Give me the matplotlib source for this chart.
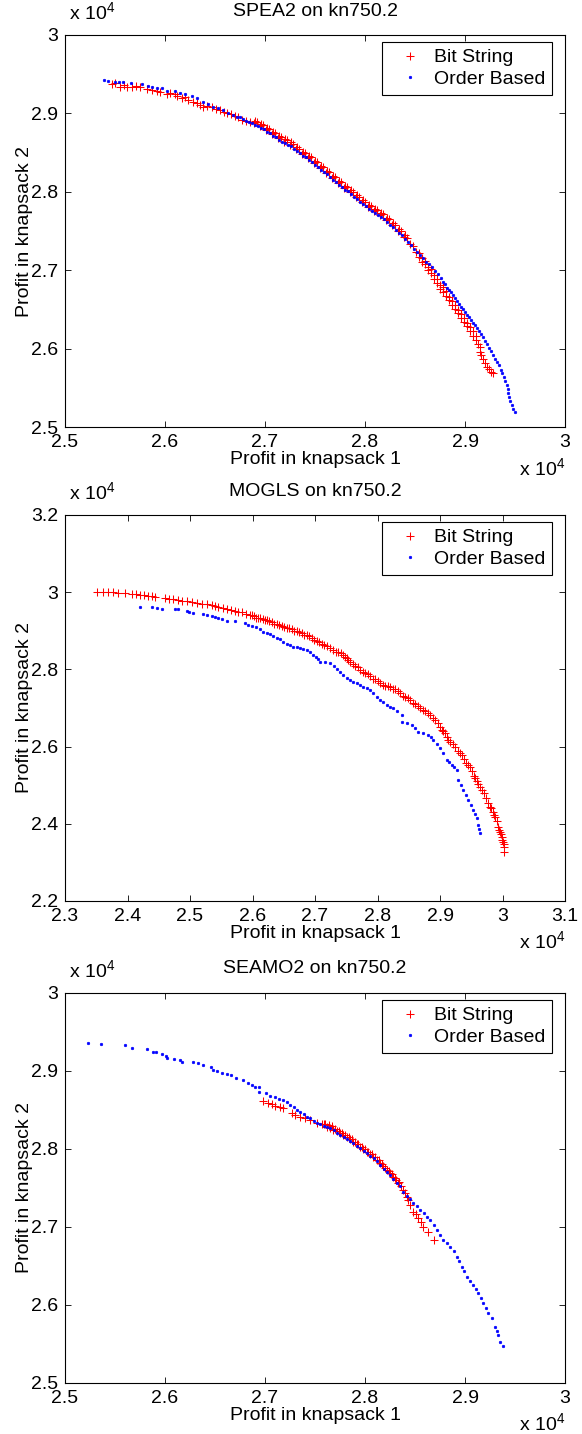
import matplotlib
matplotlib.use('Agg')
import matplotlib.pyplot as plt
from matplotlib.ticker import FuncFormatter, MultipleLocator

plt.rcParams['font.family'] = ['Liberation Sans', 'DejaVu Sans']
plt.rcParams['mathtext.fontset'] = 'custom'
plt.rcParams['mathtext.rm'] = 'Liberation Sans'

# ---- SPEA2 on kn750.2 ----
bs1_x = [25470, 25500, 25550, 25590, 25620, 25670, 25710, 25750, 25820, 25870,
         25920, 25950, 26020, 26050, 26100, 26120, 26170, 26200, 26230, 26280,
         26320, 26350, 26380, 26420, 26470, 26510, 26550, 26590, 26620, 26660,
         26700, 26730, 26770, 26810, 26850,
         26890, 26920, 26950, 26980, 27010, 27040, 27070, 27100, 27130, 27160,
         27190, 27220, 27250, 27280, 27310, 27340, 27370, 27400, 27430, 27460,
         27490, 27520, 27550, 27580, 27610, 27640, 27670, 27700, 27730, 27760,
         27790, 27820, 27850, 27880, 27910, 27940, 27970, 28000, 28030, 28060,
         28090, 28120, 28150, 28180, 28210, 28240, 28270, 28300, 28330, 28360,
         28390, 28420, 28450, 28480, 28510,
         28540, 28540, 28570, 28570, 28600, 28600, 28630, 28630, 28660, 28660,
         28690, 28690, 28720, 28720, 28750, 28750, 28780, 28780, 28810, 28810,
         28840, 28840, 28870, 28870, 28900, 28900, 28930, 28930, 28960, 28960,
         28990, 28990, 29020, 29020, 29050, 29050, 29080, 29080, 29110, 29110,
         29130, 29150, 29150, 29160, 29180, 29200, 29220, 29240, 29260, 29280,
         26900, 26960, 27020, 27080, 27140, 27200, 27260, 27320, 27380, 27440,
         27500, 27560, 27620, 27680, 27740, 27800, 27860, 27920, 27980, 28040,
         28100, 28160, 28220, 28280, 28340, 28400]
bs1_y = [29371, 29384, 29341, 29356, 29341, 29333, 29349, 29341, 29307, 29298,
         29292, 29277, 29247, 29256, 29247, 29228, 29193, 29203, 29171, 29149,
         29139, 29107, 29085, 29094, 29078, 29062, 29043, 29024, 29009, 28992,
         28967, 28948, 28922, 28909, 28884,
         28874, 28893, 28835, 28852, 28791, 28804, 28740, 28753, 28689, 28699,
         28638, 28657, 28600, 28612, 28543, 28550, 28485, 28497, 28434, 28441,
         28370, 28374, 28306, 28314, 28244, 28250, 28180, 28186, 28116, 28122,
         28052, 28064, 27995, 28001, 27931, 27937, 27867, 27876, 27809, 27821,
         27758, 27765, 27698, 27713, 27640, 27647, 27577, 27583, 27506, 27506,
         27426, 27411, 27334, 27309, 27236,
         27168, 27219, 27105, 27156, 27079, 27117, 27041, 27003, 26964, 27015,
         26939, 26888, 26837, 26888, 26811, 26760, 26722, 26786, 26671, 26735,
         26620, 26658, 26556, 26607, 26505, 26556, 26454, 26492, 26390, 26441,
         26339, 26390, 26288, 26327, 26224, 26276, 26161, 26224, 26110, 26161,
         26059, 26020, 25957, 25918, 25867, 25816, 25765, 25740, 25702, 25689,
         28905, 28866, 28819, 28768, 28717, 28669, 28630, 28570, 28513, 28462,
         28394, 28334, 28271, 28207, 28143, 28079, 28022, 27958, 27894, 27837,
         27786, 27725, 27665, 27601, 27531, 27448]

ob1_x = [25390, 25430, 25500, 25540, 25580, 25660, 25770, 25830, 25870, 25920,
         25970, 26020, 26100, 26150, 26200, 26270, 26320, 26380, 26430, 26480,
         26530, 26580, 26630, 26680, 26720,
         26750, 26780, 26810, 26840, 26870, 26900, 26930, 26960, 26990, 27020,
         27050, 27080, 27110, 27140, 27170, 27200, 27230, 27260, 27290, 27320,
         27350, 27380, 27410, 27440, 27470, 27500, 27530, 27560, 27590, 27620,
         27650, 27680, 27710, 27740, 27770, 27800, 27830, 27860, 27890, 27920,
         27950, 27980, 28010, 28040, 28070, 28100, 28130, 28160, 28190, 28220,
         28250, 28280, 28310, 28340, 28370, 28400, 28430, 28460, 28490, 28520,
         28550, 28580, 28610, 28640, 28670, 28700, 28730, 28760,
         28780, 28800, 28820, 28840, 28860, 28880, 28900, 28920, 28940, 28960,
         28980, 29000, 29020, 29040, 29060, 29080, 29100, 29120, 29140, 29160,
         29180, 29200, 29220, 29240, 29260, 29280, 29300, 29320, 29340, 29360,
         29370, 29390, 29400, 29420, 29430, 29430, 29440, 29450, 29470, 29480, 29500]
ob1_y = [29426, 29413, 29404, 29401, 29401, 29392, 29375, 29349, 29341, 29320,
         29320, 29290, 29286, 29264, 29247, 29226, 29193, 29149, 29120, 29085,
         29069, 29043, 29011, 28980, 28960,
         28948, 28929, 28909, 28890, 28874, 28855, 28835, 28816, 28795, 28769,
         28744, 28718, 28693, 28667, 28639, 28619, 28600, 28580, 28552, 28520,
         28489, 28463, 28438, 28412, 28380, 28344, 28313, 28284, 28253, 28221,
         28189, 28157, 28125, 28093, 28061, 28029, 28004, 27972, 27940, 27908,
         27876, 27844, 27815, 27787, 27761, 27736, 27704, 27675, 27647, 27615,
         27583, 27551, 27515, 27481, 27443, 27398, 27360, 27318, 27277, 27236,
         27194, 27156, 27111, 27073, 27037, 26996, 26952, 26901,
         26856, 26818, 26779, 26747, 26716, 26684, 26652, 26613, 26575, 26537,
         26505, 26473, 26435, 26403, 26365, 26333, 26301, 26269, 26231, 26193,
         26148, 26103, 26059, 26014, 25969, 25918, 25874, 25829, 25785, 25733,
         25689, 25638, 25587, 25536, 25485, 25434, 25383, 25332, 25281, 25236, 25191]

# ---- MOGLS on kn750.2 ----
bs2_x = [23507, 23613, 23693, 23768, 23853, 23960, 24067, 24136, 24200, 24264,
         24333, 24392, 24440, 24600, 24664, 24733, 24800, 24867, 24947, 25027,
         25107, 25187, 25267, 25347, 25400, 25453, 25520, 25587, 25656, 25720,
         25773, 25827, 25896, 25960, 26024, 26093, 26160, 26227, 26307, 26387,
         26467, 26547, 26627, 26707, 26787, 26867, 26947, 27027, 27107, 27187,
         27293, 27373, 27453, 27512, 27560, 27640, 27720, 27800, 27880, 27960,
         28040, 28120, 28200, 28280, 28360, 28440, 28520, 28600, 28680, 28760,
         28840, 28920, 29000, 29048, 29107, 29160, 29240, 29320, 29384, 29453,
         29512, 29560, 29613, 29667, 29736, 29800, 29840, 29880, 29933, 29960,
         29987, 30008, 30024, 30029,
         25990, 26060, 26125, 26195, 26265, 26345, 26425, 26505, 26585, 26665,
         26745, 26825, 26905, 26985, 27065, 27145, 27240, 27330, 27410, 27480,
         27535, 27600, 27680, 27760, 27840, 27920, 28000, 28080, 28160, 28240,
         28320, 28400, 28480, 28560, 28640, 28720, 28800, 28880, 28960, 29025,
         29080, 29135, 29200, 29280, 29350, 29420, 29480, 29540, 29585, 29640,
         29700, 29770, 29820, 29860, 29905, 29948, 29975, 29998, 30016]
bs2_y = [30013, 30013, 29997, 29992, 29987, 29971, 29953, 29940, 29927, 29914,
         29902, 29889, 29868, 29842, 29829, 29816, 29798, 29780, 29759, 29738,
         29715, 29694, 29681, 29668, 29637, 29609, 29583, 29557, 29534, 29513,
         29495, 29479, 29443, 29409, 29376, 29324, 29293, 29267, 29220, 29168,
         29124, 29078, 29034, 28995, 28930, 28878, 28813, 28736, 28666, 28598,
         28503, 28438, 28373, 28282, 28199, 28088, 27984, 27907, 27816, 27738,
         27648, 27570, 27531, 27479, 27376, 27285, 27194, 27091, 26992, 26909,
         26819, 26689, 26515, 26404, 26256, 26127, 25977, 25826, 25679, 25523,
         25355, 25179, 25031, 24876, 24655, 24443, 24313, 24184, 23925, 23795,
         23666, 23536, 23407, 23277,
         29420, 29330, 29320, 29270, 29255, 29180, 29160, 29090, 29070, 29000,
         28975, 28890, 28860, 28760, 28720, 28620, 28560, 28455, 28420, 28310,
         28255, 28130, 28050, 27930, 27880, 27760, 27710, 27590, 27565, 27490,
         27445, 27310, 27260, 27130, 27060, 26940, 26880, 26740, 26620, 26440,
         26345, 26170, 26070, 25880, 25770, 25580, 25460, 25240, 25120, 24940,
         24790, 24530, 24400, 24230, 24080, 23850, 23740, 23590, 23480]

ob2_x = [24200, 24387, 24467, 24547, 24760, 24813, 24947, 24984, 25053, 25213,
         25272, 25347, 25400, 25453, 25512, 25587, 25720, 25880, 25928, 25987,
         26056, 26120, 26173, 26227, 26280, 26333, 26384, 26440, 26488, 26547,
         26600, 26653, 26704, 26760, 26808, 26867, 26920, 26973, 27016, 27053,
         27080, 27160, 27240, 27304, 27352, 27400, 27448, 27507, 27560, 27608,
         27667, 27720, 27768, 27827, 27880, 27933, 27987, 28040, 28093, 28147,
         28200, 28253, 28312, 28387, 28387, 28464, 28547, 28600, 28653, 28728,
         28813, 28856, 28893, 28952, 29000, 29048, 29107, 29144, 29187, 29224,
         29267, 29293, 29336, 29373, 29416, 29453, 29496, 29533, 29560, 29587,
         29613, 29624, 29640]
ob2_y = [29624, 29609, 29591, 29572, 29572, 29557, 29513, 29487, 29453, 29435,
         29409, 29383, 29350, 29324, 29293, 29262, 29262, 29194, 29158, 29124,
         29085, 29039, 28977, 28951, 28904, 28865, 28821, 28780, 28710, 28650,
         28619, 28588, 28567, 28547, 28528, 28503, 28458, 28373, 28313, 28262,
         28199, 28179, 28158, 28075, 27997, 27940, 27855, 27769, 27725, 27681,
         27640, 27596, 27552, 27510, 27453, 27376, 27293, 27207, 27142, 27078,
         27034, 26992, 26909, 26819, 26645, 26598, 26560, 26474, 26386, 26339,
         26300, 26236, 26171, 26067, 25956, 25834, 25653, 25588, 25523, 25458,
         25394, 25135, 25005, 24876, 24746, 24616, 24487, 24357, 24254, 24142,
         23969, 23865, 23754]

# ---- SEAMO2 on kn750.2 ----
bs3_x = [26983, 27033, 27067, 27100, 27150, 27183, 27267, 27300, 27350, 27400,
         27450, 27517, 27567, 27590, 27617, 27650, 27683, 27715, 27750, 27783,
         27817, 27850, 27883, 27915, 27950, 27983, 28017, 28050, 28083, 28115,
         28150, 28183, 28217, 28250, 28283, 28310, 28333, 28360, 28383, 28400,
         28417, 28430, 28450, 28483, 28505, 28533, 28555, 28583, 28633, 28690,
         27600, 27635, 27668, 27703, 27735, 27768, 27803, 27835, 27867, 27900,
         27932, 27968, 28000, 28033, 28068, 28102, 28135, 28168, 28203, 28235,
         28267, 28300, 28335]
bs3_y = [28619, 28594, 28577, 28551, 28535, 28522, 28458, 28436, 28406, 28394,
         28372, 28337, 28321, 28314, 28286, 28269, 28244, 28224, 28201, 28173,
         28150, 28122, 28094, 28064, 28030, 28000, 27965, 27936, 27901, 27859,
         27817, 27776, 27731, 27689, 27645, 27603, 27560, 27519, 27474, 27430,
         27389, 27346, 27282, 27196, 27167, 27112, 27064, 27004, 26940, 26833,
         28322, 28307, 28288, 28258, 28228, 28202, 28177, 28151, 28123, 28092,
         28059, 28025, 27995, 27965, 27931, 27893, 27852, 27805, 27760, 27720,
         27677, 27625, 27580]

ob3_x = [25233, 25357, 25600, 25667, 25817, 25877, 25907, 25967, 26010, 26023,
         26090, 26150, 26167, 26283, 26333, 26377, 26457, 26477, 26523, 26573,
         26617, 26657, 26707, 26783, 26827, 26867, 26900, 26937, 26937, 27010,
         27050, 27100, 27143, 27180, 27220, 27250, 27285, 27317, 27350, 27385,
         27417, 27450, 27485, 27517, 27550, 27585, 27620, 27650, 27685, 27720,
         27750, 27785, 27820, 27850, 27883, 27915, 27950, 27985, 28017, 28050,
         28085, 28120, 28150, 28185, 28220, 28250, 28283, 28320, 28350, 28383,
         28415, 28450, 28483, 28515, 28550, 28585, 28620, 28650, 28685, 28717,
         28750, 28783, 28815, 28850, 28885, 28917, 28940, 28967, 28990, 29017,
         29050, 29083, 29110, 29133, 29160, 29183, 29210, 29233, 29267, 29300,
         29320, 29333, 29350, 29383]
ob3_y = [29363, 29342, 29330, 29295, 29282, 29247, 29240, 29214, 29196, 29163,
         29150, 29141, 29119, 29112, 29099, 29077, 29055, 29013, 29004, 28978,
         28958, 28945, 28914, 28885, 28842, 28821, 28799, 28791, 28735, 28714,
         28680, 28663, 28637, 28622, 28596, 28564, 28532, 28500, 28474, 28442,
         28414, 28391, 28359, 28330, 28314, 28295, 28282, 28265, 28237, 28205,
         28180, 28154, 28128, 28103, 28073, 28041, 28006, 27974, 27945, 27913,
         27878, 27840, 27795, 27744, 27705, 27667, 27615, 27564, 27526, 27449,
         27397, 27353, 27304, 27263, 27218, 27173, 27128, 27090, 27026, 26962,
         26898, 26833, 26789, 26748, 26686, 26619, 26558, 26491, 26430, 26363,
         26308, 26257, 26205, 26150, 26083, 26022, 25955, 25894, 25830, 25722,
         25667, 25616, 25530, 25474]

titles = ['SPEA2 on kn750.2', 'MOGLS on kn750.2', 'SEAMO2 on kn750.2']
series = [(bs1_x, bs1_y, ob1_x, ob1_y),
          (bs2_x, bs2_y, ob2_x, ob2_y),
          (bs3_x, bs3_y, ob3_x, ob3_y)]
xlims = [(25000, 30000), (23000, 31000), (25000, 30000)]
ylims = [(25000, 30000), (22000, 32000), (25000, 30000)]
ysteps = [1000, 2000, 1000]

# axes boxes in figure fractions (left, bottom, width, height)
boxes = [[0.1117, 0.7022, 0.8591, 0.2734],
         [0.1117, 0.3717, 0.8591, 0.2692],
         [0.1117, 0.0356, 0.8591, 0.2720]]


def tick_fmt(v, pos):
    return f'{v / 1e4:g}'


fig = plt.figure(figsize=(5.82, 14.34), dpi=100)

for i in range(3):
    bx, by, ox, oy = series[i]
    ax = fig.add_axes(boxes[i])
    ax.plot(bx, by, '+', color='red', ms=5.5, mew=0.75, label='Bit String')
    ax.plot(ox, oy, '.', color='blue', ms=3.6, mew=0.5, label='Order Based')

    ax.set_xlim(xlims[i])
    ax.set_ylim(ylims[i])
    ax.xaxis.set_major_locator(MultipleLocator(1000))
    ax.yaxis.set_major_locator(MultipleLocator(ysteps[i]))
    ax.xaxis.set_major_formatter(FuncFormatter(tick_fmt))
    ax.yaxis.set_major_formatter(FuncFormatter(tick_fmt))
    ax.tick_params(direction='in', top=True, right=True, length=4, width=0.6,
                   labelsize=14, pad=5)
    for s in ax.spines.values():
        s.set_linewidth(0.8)

    ax.set_title(titles[i], fontsize=14, pad=14)
    ax.set_xlabel('Profit in knapsack 1', fontsize=14, labelpad=0)
    ax.set_ylabel('Profit in knapsack 2', fontsize=14, labelpad=-1.5)

    # matlab style exponent labels
    ax.annotate('x 10$^{4}$', xy=(0, 1), xycoords='axes fraction', xytext=(3, 11),
                textcoords='offset points', fontsize=14, va='baseline')
    ax.annotate('x 10$^{4}$', xy=(1, 0), xycoords='axes fraction', xytext=(0, -35),
                textcoords='offset points', fontsize=14, ha='right', va='baseline')

    leg = ax.legend(loc='upper right', bbox_to_anchor=(0.974, 0.982), borderaxespad=0,
                    fancybox=False, edgecolor='black', framealpha=1, fontsize=14,
                    handlelength=2.1, handletextpad=0.2, labelspacing=0.2, borderpad=0.35)
    leg.get_frame().set_linewidth(0.8)

fig.savefig('out.png', dpi=100)
